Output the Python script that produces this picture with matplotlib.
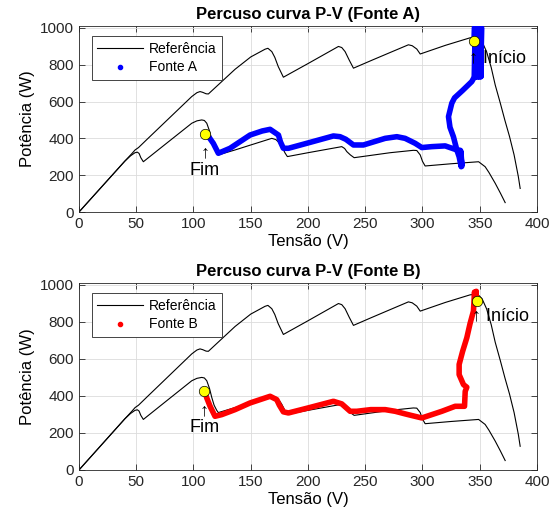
import matplotlib
matplotlib.use('Agg')
import matplotlib.pyplot as plt
from matplotlib.lines import Line2D

plt.rcParams['font.family'] = ['Liberation Sans', 'DejaVu Sans']

# curvas de referencia (P-V)
ref_hi_v = [0, 20, 40, 46, 49, 52, 60, 80, 98.5, 103, 105.7, 108, 111, 113, 136.3, 150,
            162.5, 165, 168.4, 171, 174, 178.5, 200, 226.6, 229.5, 232.4, 236, 239.7,
            255, 271.7, 287.7, 291, 295, 298, 320, 341.6, 348, 352, 356, 360, 363.5,
            368, 372, 376, 380, 383.7, 385.3]
ref_hi_p = [0, 138, 276, 316, 337, 350, 398, 517, 627, 648, 654, 650, 642, 641, 775, 842,
            884, 889, 871, 840, 790, 732, 806, 899, 893, 871, 825, 781,
            822, 866, 908, 903, 885, 858, 905, 946, 950, 925, 870, 785, 690,
            590, 497, 410, 310, 192, 128]

ref_lo_v = [0, 20, 40, 45, 48.9, 51, 52.5, 54, 56.2, 75, 98.5, 103, 107.2, 109.5, 111.6,
            114, 116, 118, 120.3, 121.7, 136.3, 150, 168.4, 172, 175, 177.1, 180, 182,
            200, 229.5, 232, 233.9, 237, 240.3, 271.7, 292, 295, 298, 300, 302.3, 325,
            349, 354.7, 358, 363.5, 368, 372.2]
ref_lo_p = [0, 138, 276, 305, 322, 325, 318, 295, 273, 366, 482, 495, 500, 497, 482,
            440, 391, 350, 322, 310, 337, 364, 400, 393, 375, 355, 320, 301,
            322, 355, 345, 328, 310, 295, 322, 335, 334, 310, 275, 250, 262,
            273, 246, 215, 156, 103, 51]

# percurso Fonte A (do inicio ao fim)
va = [345, 345.5, 346, 346.5, 347, 347.5, 348, 348.5, 349, 349.5, 350, 350.5, 351, 351.5,
      351, 350, 349, 348, 347, 346, 345.2, 345,
      343, 335, 328, 325.6, 322.7, 324, 327, 330, 332, 333.8, 333.5, 334.5, 333, 330,
      319.8, 308.2, 299.4, 293.6, 284.8, 277.6, 267.4, 248.4, 239.7, 233, 228, 222.2,
      200, 182.9, 178.5, 176, 174.2, 166.9, 160, 149.4, 131.9, 121.7, 117.3, 112, 110.1]
pa = [930, 1003, 735, 1003, 735, 1003, 735, 1003, 735, 1003, 735, 1003, 735, 1000,
      735, 1003, 735, 1003, 735, 1003, 740, 730,
      708, 660, 620, 591, 518, 460, 409, 337, 300, 246, 330, 250, 335, 337,
      359, 355, 350, 373, 400, 409, 400, 364, 364, 395, 409, 413,
      375, 346, 346, 380, 418, 449, 440, 418, 346, 319, 373, 420, 424]

# percurso Fonte B
vb = [347.5, 346, 345.5, 347, 346, 345.4, 344.5, 341.5, 338.7, 335, 332, 332, 335.8,
      338.7, 337.3, 336.7, 328.5, 316.9, 299.4, 290, 284.8, 276.1, 267.4, 254.8, 242.6,
      236.8, 229.5, 222.2, 200, 182.9, 178.5, 175, 172.7, 166.9, 149.4, 136.3, 124.7,
      118.8, 114.5, 111.6, 109.5]
pb = [915, 960, 940, 965, 935, 961, 858, 790, 714, 640, 570, 515, 461,
      447, 425, 344, 344, 317, 281, 295, 303, 317, 326, 326, 317,
      317, 357, 371, 335, 308, 314, 350, 380, 398, 362, 326, 299,
      290, 344, 389, 429]

inicio_a = (345, 930)
fim_a = (110.1, 424)
inicio_b = (347.5, 915)
fim_b = (109.5, 429)

fig = plt.figure(figsize=(5.57, 5.18), dpi=100)
ax1 = fig.add_axes([0.1418, 0.5907, 0.8223, 0.3591])
ax2 = fig.add_axes([0.1418, 0.0927, 0.8223, 0.361])

paineis = [(ax1, va, pa, 'b', 'Fonte A', inicio_a, fim_a),
           (ax2, vb, pb, 'r', 'Fonte B', inicio_b, fim_b)]

for ax, v, p, cor, nome, ini, fim in paineis:
    ax.plot(ref_hi_v, ref_hi_p, color='k', lw=0.8, zorder=2)
    ax.plot(ref_lo_v, ref_lo_p, color='k', lw=0.8, zorder=2)
    ax.plot(v, p, '-', color=cor, lw=4, solid_capstyle='round',
            solid_joinstyle='round', zorder=3)
    ax.plot(*ini, 'o', mfc='yellow', mec='k', mew=0.5, ms=7.5, zorder=4)
    ax.plot(*fim, 'o', mfc='yellow', mec='k', mew=0.5, ms=7.5, zorder=4)
    ax.text(ini[0] - 4.5, 835, '\u2191 Início', fontsize=13, va='center', ha='left',
            zorder=5)
    ax.text(fim[0], 273, '\u2191\nFim', fontsize=13, va='center', ha='center',
            linespacing=1.0, zorder=5)

    ax.set_xlim(0, 400)
    ax.set_ylim(0, 1010)
    ax.set_xticks(range(0, 401, 50))
    ax.set_yticks(range(0, 1001, 200))
    ax.grid(True, color='#dcdcdc', lw=0.6)
    ax.set_axisbelow(True)
    ax.tick_params(direction='in', length=4, width=0.6, top=True, right=True,
                   labelsize=11, colors='#262626')
    for s in ax.spines.values():
        s.set_color('#262626')
        s.set_linewidth(0.6)
    ax.set_xlabel('Tensão (V)', fontsize=12, labelpad=2)
    ax.set_ylabel('Potência (W)', fontsize=12, labelpad=4)
    ax.set_title('Percuso curva P-V (' + nome + ')', fontsize=12, fontweight='bold', pad=5)

    handles = [Line2D([], [], color='k', lw=0.8),
               Line2D([], [], ls='none', marker='.', color=cor, ms=6)]
    leg = ax.legend(handles, ['Referência', nome], loc='upper left',
                    bbox_to_anchor=(0.028, 0.946), borderaxespad=0, fontsize=10,
                    fancybox=False, framealpha=1, edgecolor='#262626',
                    handlelength=3.3, handletextpad=0.4, labelspacing=0.35, borderpad=0.4)
    leg.get_frame().set_linewidth(0.6)

fig.savefig('out.png', dpi=100)
